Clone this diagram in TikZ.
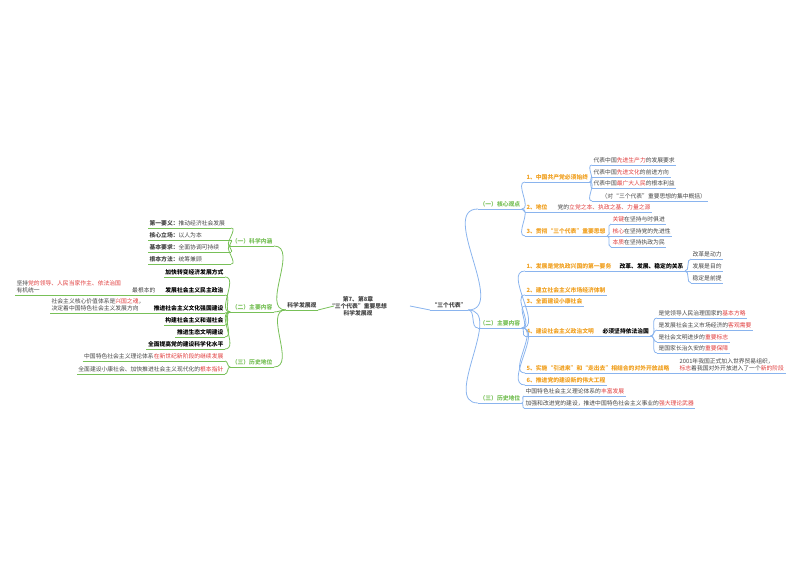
\documentclass[tikz,border=0pt]{standalone}
\usepackage{fontspec}
\setmainfont{Noto Sans CJK SC}
\definecolor{gr}{HTML}{78C058}
\definecolor{bl}{HTML}{8AB4EE}
\definecolor{og}{HTML}{F0A020}
\definecolor{rd}{HTML}{E03C3C}
\definecolor{tx}{HTML}{444444}
\newcommand\rd[1]{\textcolor{rd}{#1}}
\newcommand\fs{\fontsize{2.9}{3.6}\selectfont}
\tikzset{
 lb/.style={font=\fs, text=tx, inner sep=0.6pt},
 bd/.style={font=\fs\bfseries},
 gl/.style={draw=gr, line width=0.4pt},
 bln/.style={draw=bl, line width=0.4pt},
}
% right node: name x y text linestyle extra
\newcommand\RN[6]{\node[lb,anchor=south west,#6] (#1) at (#2,#3) {#4}; \draw[#5] (#1.south west)--(#1.south east);}
\newcommand\LN[6]{\node[lb,anchor=south east,#6] (#1) at (#2,#3) {#4}; \draw[#5] (#1.south west)--(#1.south east);}
\newcommand\CR[3]{\draw[#1] (#2.south east) to[out=0,in=180] (#3.south west);}
\newcommand\CL[3]{\draw[#1] (#2.south west) to[out=180,in=0] (#3.south east);}
\begin{document}
\begin{tikzpicture}[x=0.5pt,y=-0.5pt]
\useasboundingbox (0,0) rectangle (800,566);
\node[lb,bd,align=center] (C) at (358,306) {第7、第8章\\“三个代表”重要思想\\科学发展观};
% right
\RN{T}{430}{310}{“三个代表”}{bln}{bd}
\draw[bln] (410,306) -- (T.south west);
\RN{A}{478}{209}{（一）核心观点}{bln}{text=gr,bd}
\RN{B}{478}{328}{（二）主要内容}{bln}{text=gr,bd}
\RN{Cc}{478}{403}{（三）历史地位}{bln}{text=gr,bd}
\CR{bln}{T}{A}\CR{bln}{T}{B}\CR{bln}{T}{Cc}
\RN{A1}{525}{182}{1、中国共产党必须始终}{bln}{text=og,bd}
\RN{A11}{592}{165}{代表中国\rd{先进生产力}的发展要求}{bln}{}
\RN{A12}{592}{177}{代表中国\rd{先进文化}的前进方向}{bln}{}
\RN{A13}{592}{188}{代表中国\rd{最广大人民}的根本利益}{bln}{}
\RN{A14}{592}{201}{\hspace{4pt}（对“三个代表”重要思想的集中概括）}{bln}{}
\CR{bln}{A1}{A11}\CR{bln}{A1}{A12}\CR{bln}{A1}{A13}\CR{bln}{A1}{A14}
\RN{A2}{525}{212}{2、地位}{bln}{text=og,bd}
\RN{A21}{556}{212}{党的\rd{立党之本、执政之基、力量之源}}{bln}{}
\draw[bln] (A2.south east)--(A21.south west);
\RN{A3}{525}{236}{3、贯彻“三个代表”重要思想}{bln}{text=og,bd}
\RN{A31}{611}{224}{\rd{关键}在坚持与时俱进}{bln}{}
\RN{A32}{611}{236}{\rd{核心}在坚持党的先进性}{bln}{}
\RN{A33}{611}{247}{\rd{本质}在坚持执政为民}{bln}{}
\CR{bln}{A3}{A31}\CR{bln}{A3}{A32}\CR{bln}{A3}{A33}
\CR{bln}{A}{A1}\CR{bln}{A}{A2}\CR{bln}{A}{A3}
\RN{B1}{525}{271}{1、发展是党执政兴国的第一要务}{bln}{text=og,bd}
\RN{B1a}{618}{271}{改革、发展、稳定的关系}{bln}{bd,text=black}
\draw[bln] (B1.south east)--(B1a.south west);
\RN{B1b}{691}{259}{改革是动力}{bln}{}
\RN{B1c}{691}{271}{发展是目的}{bln}{}
\RN{B1d}{691}{283}{稳定是前提}{bln}{}
\CR{bln}{B1a}{B1b}\CR{bln}{B1a}{B1c}\CR{bln}{B1a}{B1d}
\RN{B2}{525}{295}{2、建立社会主义市场经济体制}{bln}{text=og,bd}
\RN{B3}{525}{306}{3、全面建设小康社会}{bln}{text=og,bd}
\RN{B4}{525}{336}{4、建设社会主义政治文明}{bln}{text=og,bd}
\RN{B4a}{601}{336}{必须坚持依法治国}{bln}{bd,text=black}
\draw[bln] (B4.south east)--(B4a.south west);
\RN{B4b}{657}{318}{是党领导人民治理国家的\rd{基本方略}}{bln}{}
\RN{B4c}{657}{330}{是发展社会主义市场经济的\rd{客观需要}}{bln}{}
\RN{B4d}{657}{342}{是社会文明进步的\rd{重要标志}}{bln}{}
\RN{B4e}{657}{353}{是国家长治久安的\rd{重要保障}}{bln}{}
\CR{bln}{B4a}{B4b}\CR{bln}{B4a}{B4c}\CR{bln}{B4a}{B4d}\CR{bln}{B4a}{B4e}
\RN{B5}{525}{373}{5、实施“引进来”和“走出去”相结合的对外开放战略}{bln}{text=og,bd}
\RN{B5a}{678}{373}{2001年我国正式加入世界贸易组织，\\\rd{标志}着我国对外开放进入了一个\rd{新的阶段}}{bln}{align=left}
\draw[bln] (B5.south east)--(B5a.south west);
\RN{B6}{525}{385}{6、推进党的建设新的伟大工程}{bln}{text=og,bd}
\CR{bln}{B}{B1}\CR{bln}{B}{B2}\CR{bln}{B}{B3}\CR{bln}{B}{B4}\CR{bln}{B}{B5}\CR{bln}{B}{B6}
\RN{C1}{524}{396}{中国特色社会主义理论体系的\rd{丰富发展}}{bln}{}
\RN{C2}{524}{408}{加强和改进党的建设，推进中国特色社会主义事业的\rd{强大理论武器}}{bln}{}
\CR{bln}{Cc}{C1}\CR{bln}{Cc}{C2}
% left
\LN{K}{318}{310}{科学发展观}{gl}{bd}
\draw[gl] (334,306) -- (K.south east);
\LN{L1}{274}{246}{（一）科学内涵}{gl}{text=gr,bd}
\LN{L2}{274}{312}{（二）主要内容}{gl}{text=gr,bd}
\LN{L3}{274}{367}{（三）历史地位}{gl}{text=gr,bd}
\CL{gl}{K}{L1}\CL{gl}{K}{L2}\CL{gl}{K}{L3}
\RN{L11}{148}{228}{\textbf{第一要义：}推动经济社会发展}{gl}{text width=40pt}
\RN{L12}{148}{240}{\textbf{核心立场：}以人为本}{gl}{text width=40pt}
\RN{L13}{148}{252}{\textbf{基本要求：}全面协调可持续}{gl}{text width=40pt}
\RN{L14}{148}{264}{\textbf{根本方法：}统筹兼顾}{gl}{text width=40pt}
\CL{gl}{L1}{L11}\CL{gl}{L1}{L12}\CL{gl}{L1}{L13}\CL{gl}{L1}{L14}
\LN{L21}{225}{277}{加快转变经济发展方式}{gl}{bd,text=black}
\LN{L22}{225}{295}{发展社会主义民主政治}{gl}{bd,text=black}
\LN{L22a}{157}{295}{最根本的}{gl}{}
\RN{L22b}{15}{295}{坚持\rd{党的领导、人民当家作主、依法治国}\\有机统一}{gl}{align=left}
\draw[gl] (L22.south west)--(L22a.south east);
\draw[gl] (L22a.south west)--(L22b.south east);
\LN{L23}{225}{313}{推进社会主义文化强国建设}{gl}{bd,text=black}
\RN{L23a}{50}{313}{社会主义核心价值体系是\rd{兴国之魂}，\\决定着中国特色社会主义发展方向}{gl}{align=left}
\draw[gl] (L23.south west)--(L23a.south east);
\LN{L24}{225}{325}{构建社会主义和谐社会}{gl}{bd,text=black}
\LN{L25}{225}{337}{推进生态文明建设}{gl}{bd,text=black}
\LN{L26}{225}{349}{全面提高党的建设科学化水平}{gl}{bd,text=black}
\CL{gl}{L2}{L21}\CL{gl}{L2}{L22}\CL{gl}{L2}{L23}\CL{gl}{L2}{L24}\CL{gl}{L2}{L25}\CL{gl}{L2}{L26}
\LN{L31}{225}{361}{中国特色社会主义理论体系\rd{在新世纪新阶段的继续发展}}{gl}{}
\LN{L32}{225}{374}{全面建设小康社会、加快推进社会主义现代化的\rd{根本指针}}{gl}{}
\CL{gl}{L3}{L31}\CL{gl}{L3}{L32}
\end{tikzpicture}
\end{document}
